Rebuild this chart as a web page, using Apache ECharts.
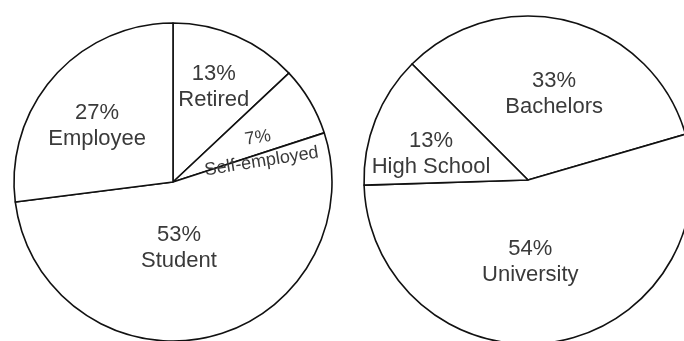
<!DOCTYPE html>
<html>
<head>
<meta charset="utf-8">
<script src="https://cdn.jsdelivr.net/npm/echarts@6/dist/echarts.min.js"></script>
<style>
  html, body { margin: 0; padding: 0; background: #fff; }
  #chart { width: 684px; height: 341px; }
</style>
</head>
<body>
<div id="chart"></div>
<script>
// occupation split (left pie), clockwise from 12 o'clock
const jobNames = ['Retired', 'Self-employed', 'Student', 'Employee'];
const jobValues = [13, 7, 53, 27];

// education split (right pie), clockwise
const eduNames = ['Bachelors', 'University', 'High School'];
const eduValues = [33, 54, 13];

// label nudges away from the default inside spot
const jobShift = [[8, -19], [14, 12], [-12, -15], [-14, -2]];
const eduShift = [[5, -4], [-11, -2], [-18, 5]];

function slices(names, values) {
    return names.map((n, i) => ({ name: n, value: values[i] }));
}

function pieSeries(names, values, shift, center, radius, startAngle) {
    let data = slices(names, values);
    return {
        type: 'pie',
        center: center,
        radius: radius,
        startAngle: startAngle,
        clockwise: true,
        silent: true,
        animation: false,
        itemStyle: { color: '#fff', borderColor: '#111', borderWidth: 1.6 },
        label: {
            position: 'inside',
            formatter: '{c}%\n{b}',
            color: '#3a3a3a',
            fontFamily: 'Liberation Sans, Arial, sans-serif',
            fontSize: 22,
            lineHeight: 26
        },
        labelLine: { show: false },
        labelLayout: function (p) {
            let s = shift[p.dataIndex];
            return { dx: s[0], dy: s[1] };
        },
        data: data
    };
}

let left = pieSeries(jobNames, jobValues, jobShift, [173, 182], 159, 90);
// the thin self-employed wedge gets a smaller, tilted label
left.data[1].label = { fontSize: 18, lineHeight: 24, rotate: 9 };

let right = pieSeries(eduNames, eduValues, eduShift, [528, 180], 164, 135);

let myChart = echarts.init(document.getElementById('chart'));
myChart.setOption({
    backgroundColor: '#fff',
    series: [left, right]
});
</script>
</body>
</html>
